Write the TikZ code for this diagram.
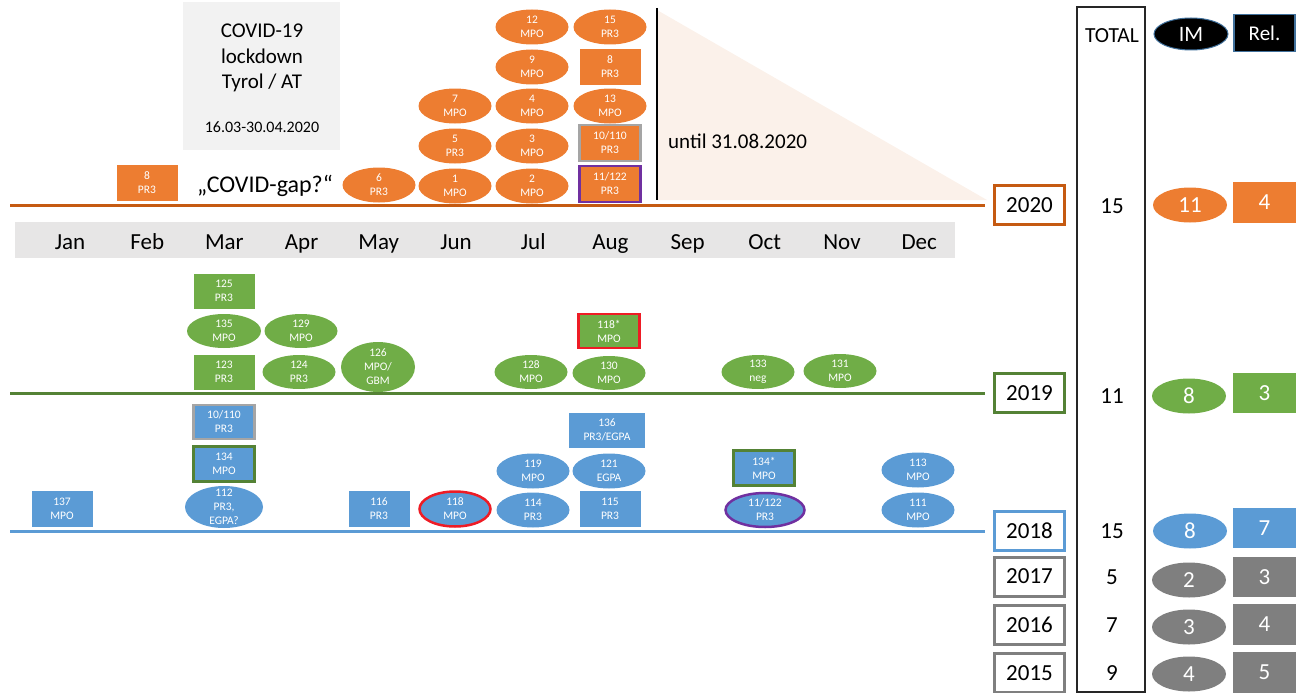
\documentclass[tikz,border=0pt]{standalone}
\usepackage{fontspec}
\setmainfont{Carlito}
\usetikzlibrary{shapes.geometric}
\definecolor{corange}{HTML}{ED7D31}
\definecolor{corline}{HTML}{C55A11}
\definecolor{cgreen}{HTML}{70AD47}
\definecolor{cgrline}{HTML}{548235}
\definecolor{cblue}{HTML}{5B9BD5}
\definecolor{cgray}{HTML}{7F7F7F}
\definecolor{cpeach}{HTML}{FBF1EA}
\definecolor{cbar}{HTML}{E7E6E6}
\definecolor{cbox}{HTML}{F2F2F2}
\definecolor{cpurple}{HTML}{7030A0}
\definecolor{cred}{HTML}{EE1C25}
\definecolor{cframe}{HTML}{A5A5A5}
\definecolor{cedge}{HTML}{41719C}
\tikzset{
  ev/.style={ellipse, fill=#1, text=white, minimum width=73pt, minimum height=35pt,
    inner sep=0pt, align=center, font=\fontsize{11.5}{14}\selectfont},
  ev/.default=corange,
  evbox/.style={rectangle, fill=#1, text=white, minimum width=61pt, minimum height=36pt,
    inner sep=0pt, align=center, font=\fontsize{11.5}{14}\selectfont},
  evbox/.default=corange,
  yearbox/.style={draw=#1, line width=3pt, fill=white, minimum width=70pt, minimum height=39pt,
    inner sep=0pt, font=\fontsize{23}{23}\selectfont},
  month/.style={anchor=base, font=\fontsize{23}{23}\selectfont},
  total/.style={font=\fontsize{23}{23}\selectfont},
  imcount/.style={ellipse, fill=#1, text=white, minimum width=74pt, minimum height=35pt,
    inner sep=0pt, font=\fontsize{23}{23}\selectfont},
  relcount/.style={rectangle, fill=#1, text=white, minimum width=63pt, minimum height=40pt,
    inner sep=0pt, font=\fontsize{23}{23}\selectfont},
}
\begin{document}
\begin{tikzpicture}[x=1pt,y=-1pt]
\useasboundingbox (0,0) rectangle (1296,693);
\fill[cpeach] (657,10) -- (987,200) -- (657,200) -- cycle;
\draw[line width=1.5pt] (657,8) -- (657,200);
\fill[cbox] (183,2) rectangle (340,150);
\fill[cbar] (15,222) rectangle (955,258);
\foreach \m [count=\i] in {Jan,Feb,Mar,Apr,May,Jun,Jul,Aug,Sep,Oct,Nov,Dec}
  \node[month] (m\i) at ({70+77.2*(\i-1)},249) {\m};
\node[align=center, font=\fontsize{21}{25.5}\selectfont] (covid) at (262,58) {COVID-19\\lockdown\\Tyrol / AT};
\node[font=\fontsize{16}{16}\selectfont] (covdate) at (262,127) {16.03-30.04.2020};
\node[anchor=base, font=\fontsize{24}{24}\selectfont] (gap) at (265,192) {„COVID-gap?“};
\node[anchor=base west, inner sep=0pt, font=\fontsize{21}{21}\selectfont] (until) at (668,148) {until 31.08.2020};

% 2020
\node[evbox] (o8) at (147,183) {8\\PR3};
\node[ev] (o6) at (379,185) {6\\PR3};
\node[ev] (o1) at (455,186) {1\\MPO};
\node[ev] (o5) at (455,146) {5\\PR3};
\node[ev] (o7) at (455,106) {7\\MPO};
\node[ev] (o2) at (532,186) {2\\MPO};
\node[ev] (o3) at (532,146) {3\\MPO};
\node[ev] (o4) at (532,106) {4\\MPO};
\node[ev] (o9) at (532,67) {9\\MPO};
\node[ev] (o12) at (532,27) {12\\MPO};
\node[evbox, draw=cpurple, line width=2.5pt] (o11) at (610,184) {11/122\\PR3};
\node[evbox, draw=cframe, line width=2.5pt] (o10) at (610,143) {10/110\\PR3};
\node[ev] (o13) at (610,106) {13\\MPO};
\node[evbox] (o8b) at (610,67) {8\\PR3};
\node[ev] (o15) at (610,27) {15\\PR3};

% 2019
\node[evbox=cgreen, minimum height=35pt] (g125) at (224,291) {125\\PR3};
\node[ev=cgreen, minimum width=74pt, minimum height=34pt] (g135) at (224,331) {135\\MPO};
\node[evbox=cgreen, minimum height=35pt] (g123) at (224,372) {123\\PR3};
\node[ev=cgreen, minimum height=34pt] (g129) at (301,331) {129\\MPO};
\node[ev=cgreen, minimum height=34pt] (g124) at (299,372) {124\\PR3};
\node[ev=cgreen, minimum width=74pt, minimum height=50pt, inner ysep=-4pt] (g126) at (378,367) {126\\MPO/\\GBM};
\node[ev=cgreen, minimum height=34pt] (g128) at (531,372) {128\\MPO};
\node[evbox=cgreen, draw=cred, line width=2.5pt, minimum height=34pt] (g118) at (609,331) {118*\\MPO};
\node[ev=cgreen, minimum height=34pt] (g130) at (609,373) {130\\MPO};
\node[ev=cgreen, minimum height=34pt] (g133) at (758,372) {133\\neg};
\node[ev=cgreen, minimum height=34pt] (g131) at (840,371) {131\\MPO};

% 2018
\node[evbox=cblue] (b137) at (62,509) {137\\MPO};
\node[ev=cblue, minimum width=78pt, minimum height=42pt, inner ysep=-8pt] (b112) at (224,507) {112\\PR3,\\EGPA?};
\node[evbox=cblue, draw=cgrline, line width=2.5pt, minimum height=35pt] (b134) at (224,464) {134\\MPO};
\node[evbox=cblue, draw=cframe, line width=2.5pt, minimum height=34pt] (b10) at (224,422) {10/110\\PR3};
\node[evbox=cblue] (b116) at (379,509) {116\\PR3};
\node[ev=cblue, draw=cred, line width=2.5pt, minimum width=71pt, minimum height=35pt] (b118) at (455,509) {118\\MPO};
\node[ev=cblue] (b114) at (533,510) {114\\PR3};
\node[ev=cblue] (b119) at (533,471) {119\\MPO};
\node[evbox=cblue] (b115) at (610,509) {115\\PR3};
\node[ev=cblue] (b121) at (609,471) {121\\EGPA};
\node[evbox=cblue, minimum width=76pt, minimum height=35pt] (b136) at (607,430) {136\\PR3/EGPA};
\node[evbox=cblue, draw=cgrline, line width=2.5pt, minimum height=35pt] (b134s) at (764,468) {134*\\MPO};
\node[ev=cblue, draw=cpurple, line width=2.5pt, minimum width=79pt, minimum height=34pt] (b11) at (765,510) {11/122\\PR3};
\node[ev=cblue] (b113) at (918,470) {113\\MPO};
\node[ev=cblue] (b111) at (918,510) {111\\MPO};

% years
\node[yearbox=corline] (y2020) at (1029.5,205) {2020};
\node[yearbox=cgrline] (y2019) at (1029.5,393) {2019};
\node[yearbox=cblue] (y2018) at (1029.5,531) {2018};
\node[yearbox=cgray] (y2017) at (1029.5,576.5) {2017};
\node[yearbox=cgray] (y2016) at (1029.5,625) {2016};
\node[yearbox=cgray] (y2015) at (1029.5,673) {2015};
\coordinate (l2020) at (10,205);
\coordinate (l2019) at (10,393);
\coordinate (l2018) at (10,531);
\draw[corline, line width=3pt, shorten >=8pt] (l2020) -- (y2020.west);
\draw[cgrline, line width=3pt, shorten >=8pt] (l2019) -- (y2019.west);
\draw[cblue, line width=3pt, shorten >=8pt] (l2018) -- (y2018.west);

% totals
\draw[black!85, line width=1.5pt] (1077,7) rectangle (1145,692);
\node[font=\fontsize{21.5}{21.5}\selectfont] (tot) at (1112,36) {TOTAL};
\node[total] (t2020) at (1112,206) {15};
\node[total] (t2019) at (1112,396) {11};
\node[total] (t2018) at (1112,531) {15};
\node[total] (t2017) at (1112,577) {5};
\node[total] (t2016) at (1112,625) {7};
\node[total] (t2015) at (1112,673) {9};

\node[imcount=black, draw=cedge, line width=1pt, minimum height=32pt, font=\fontsize{22}{22}\selectfont] (im) at (1191,34) {IM};
\node[relcount=black, draw=cedge, line width=1.5pt, minimum width=61pt, minimum height=37pt, font=\fontsize{21}{21}\selectfont] (rel) at (1264.5,33) {Rel.};
\node[imcount=corange] (im2020) at (1190,205) {11};
\node[relcount=corange, minimum height=41pt] (rel2020) at (1264.5,202.5) {4};
\node[imcount=cgreen] (im2019) at (1189,396) {8};
\node[relcount=cgreen] (rel2019) at (1264.5,393) {3};
\node[imcount=cblue] (im2018) at (1190,531) {8};
\node[relcount=cblue] (rel2018) at (1264.5,528) {7};
\node[imcount=cgray] (im2017) at (1189,580) {2};
\node[relcount=cgray] (rel2017) at (1264.5,577) {3};
\node[imcount=cgray] (im2016) at (1189,627) {3};
\node[relcount=cgray, minimum height=41pt] (rel2016) at (1264.5,624.5) {4};
\node[imcount=cgray] (im2015) at (1189,674) {4};
\node[relcount=cgray, minimum height=41pt] (rel2015) at (1264.5,672.5) {5};
\end{tikzpicture}
\end{document}
